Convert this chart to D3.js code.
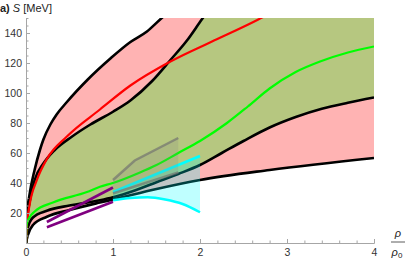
<!DOCTYPE html>
<html>
<head>
<meta charset="utf-8">
<script src="https://cdn.jsdelivr.net/npm/d3@7"></script>
<style>
  body { margin: 0; background: #fff; }
  text { font-family: "Liberation Sans", Arial, sans-serif; }
</style>
</head>
<body>
<div></div>
<script>
// curves, [rho/rho0, S in MeV]
const outerUpper = [[0,0],[0.01,18],[0.04,32],[0.1,49],[0.16,62],[0.2,69],[0.28,79],[0.35,85.5],[0.47,94],[0.71,109],[0.97,123],[1.2,134],[1.39,141],[1.56,150],[1.7,157]];
const innerUpper = [[0,0],[0.01,14],[0.04,27],[0.1,42],[0.2,53],[0.33,62],[0.53,71],[0.74,79],[1.0,87.5],[1.2,95],[1.45,108],[1.66,122],[1.85,135],[2.02,149],[2.12,157]];
const innerLower = [[0,0],[0.02,10],[0.08,17],[0.24,21.5],[0.5,25],[0.85,28.5],[1.0,30.5],[1.25,35],[1.5,40.5],[1.75,46],[2.0,52],[2.25,60],[2.5,68],[2.8,77],[3.1,84],[3.4,89.5],[3.7,93.5],[4,97]];
const outerLower = [[0,0],[0.02,5],[0.08,12],[0.24,17.5],[0.5,22],[0.85,27],[1.0,29],[1.5,36],[2.0,42],[2.8,48.7],[4,56.7]];
const redCurve = [[0,0],[0.01,12],[0.04,25],[0.125,42],[0.24,56],[0.47,71],[0.85,89],[1.2,105],[1.66,121],[2.2,136],[2.67,149],[2.8,153]];
const greenCurve = [[0,0],[0.003,8],[0.01,13],[0.04,17],[0.1,21],[0.31,27],[0.7,34],[0.85,37.5],[1.0,40],[1.31,47],[1.5,52],[1.75,60],[2.0,68],[2.31,80],[2.55,91],[2.8,103],[3.1,114],[3.38,121],[3.7,127],[4,131]];
const cyanUpper = [[1,34],[1.5,46],[2,58]];
const cyanLower = [[1,28.5],[1.2,30],[1.4,30.5],[1.6,29],[1.8,26],[2,20.5]];
const grayUpper = [[1,42],[1.25,55],[1.75,70]];
const grayLower = [[1,33],[1.75,47]];
const purpleUpper = [[0.24,14],[1,37]];
const purpleLower = [[0.24,10.5],[1,27.5]];
const xTicks = [0,1,2,3,4];
const yTicks = [20,40,60,80,100,120,140];

const W = 407, H = 260;
const x = d3.scaleLinear().domain([0,4]).range([26,374]);
const y = d3.scaleLinear().domain([0,150]).range([243,18]);

const svg = d3.select("div").append("svg")
  .attr("width", W).attr("height", H);

svg.append("clipPath").attr("id", "plot")
  .append("rect")
  .attr("x", x(0)).attr("y", y(150))
  .attr("width", x(4) - x(0)).attr("height", y(0) - y(150));

const smooth = d3.line().x(d => x(d[0])).y(d => y(d[1])).curve(d3.curveMonotoneX);
const straight = d3.line().x(d => x(d[0])).y(d => y(d[1]));

// closed band: top curve, top right corner, then bottom curve backwards
function band(top, bottom, gen) {
  const a = gen(top.concat([[4,160]]));
  const b = gen(bottom.slice().reverse());
  return a + "L" + b.slice(1) + "Z";
}
function between(top, bottom, gen) {
  const a = gen(top);
  const b = gen(bottom.slice().reverse());
  return a + "L" + b.slice(1) + "Z";
}

const g = svg.append("g").attr("clip-path", "url(#plot)");

g.append("path").attr("d", band(outerUpper, outerLower, smooth)).attr("fill", "#ffb3b3");
g.append("path").attr("d", band(innerUpper, innerLower, smooth)).attr("fill", "#b6c780");

[outerUpper, innerUpper, innerLower, outerLower].forEach(c => {
  g.append("path").attr("d", smooth(c))
    .attr("fill", "none").attr("stroke", "#000").attr("stroke-width", 2.6);
});

g.append("path").attr("d", smooth(redCurve))
  .attr("fill", "none").attr("stroke", "#ff0000").attr("stroke-width", 2.2);
g.append("path").attr("d", smooth(greenCurve))
  .attr("fill", "none").attr("stroke", "#00ff00").attr("stroke-width", 2.2);

[purpleUpper, purpleLower].forEach(c => {
  g.append("path").attr("d", straight(c))
    .attr("fill", "none").attr("stroke", "#800080").attr("stroke-width", 2.6);
});

g.append("path").attr("d", between(cyanUpper, cyanLower, smooth))
  .attr("fill", "#00ffff").attr("fill-opacity", 0.25);
[cyanUpper, cyanLower].forEach(c => {
  g.append("path").attr("d", smooth(c))
    .attr("fill", "none").attr("stroke", "#00ffff").attr("stroke-width", 2.5);
});

g.append("path").attr("d", between(grayUpper, grayLower, straight))
  .attr("fill", "#808080").attr("fill-opacity", 0.2);
[grayUpper, grayLower].forEach(c => {
  g.append("path").attr("d", straight(c))
    .attr("fill", "none").attr("stroke", "#6e6e6e").attr("stroke-opacity", 0.65).attr("stroke-width", 2.5);
});

// axes, Mathematica style: gray lines, ticks pointing inwards
const axisColor = "#a6a6a6";
const gx = svg.append("g").attr("transform", `translate(0,${y(0)})`)
  .call(d3.axisBottom(x).tickValues(xTicks).tickFormat(d3.format("d"))
    .tickSizeInner(-4).tickSizeOuter(0).tickPadding(6));
const gxm = svg.append("g").attr("transform", `translate(0,${y(0)})`)
  .call(d3.axisBottom(x).tickValues(d3.range(1, 20).filter(i => i % 5).map(i => i / 5))
    .tickSizeInner(-2.5).tickSizeOuter(0).tickFormat(""));
const gy = svg.append("g").attr("transform", `translate(${x(0)},0)`)
  .call(d3.axisLeft(y).tickValues(yTicks).tickSizeInner(-4).tickSizeOuter(0).tickPadding(4));
const gym = svg.append("g").attr("transform", `translate(${x(0)},0)`)
  .call(d3.axisLeft(y).tickValues(d3.range(1, 31).filter(i => i % 4).map(i => i * 5))
    .tickSizeInner(-2.5).tickSizeOuter(0).tickFormat(""));

[gx, gxm, gy, gym].forEach(a => {
  a.select(".domain").attr("stroke", axisColor);
  a.selectAll(".tick line").attr("stroke", axisColor);
  a.selectAll("text").attr("fill", "#333").attr("font-size", 10.5);
});

// titles
const t = svg.append("text").attr("x", 0).attr("y", 12).attr("font-size", 11).attr("fill", "#222");
t.append("tspan").attr("font-weight", "bold").text("a)");
t.append("tspan").attr("font-style", "italic").text(" S");
t.append("tspan").text(" [MeV]");

svg.append("text").attr("x", 398).attr("y", 237).attr("text-anchor", "middle")
  .attr("font-size", 11).attr("font-style", "italic").attr("fill", "#222").text("ρ");
svg.append("line").attr("x1", 391).attr("x2", 405).attr("y1", 242).attr("y2", 242)
  .attr("stroke", "#333").attr("stroke-width", 0.8);
const den = svg.append("text").attr("x", 397).attr("y", 256).attr("text-anchor", "middle")
  .attr("font-size", 11).attr("fill", "#222");
den.append("tspan").attr("font-style", "italic").text("ρ");
den.append("tspan").attr("font-size", 8).attr("dy", 2).text("0");
</script>
</body>
</html>
